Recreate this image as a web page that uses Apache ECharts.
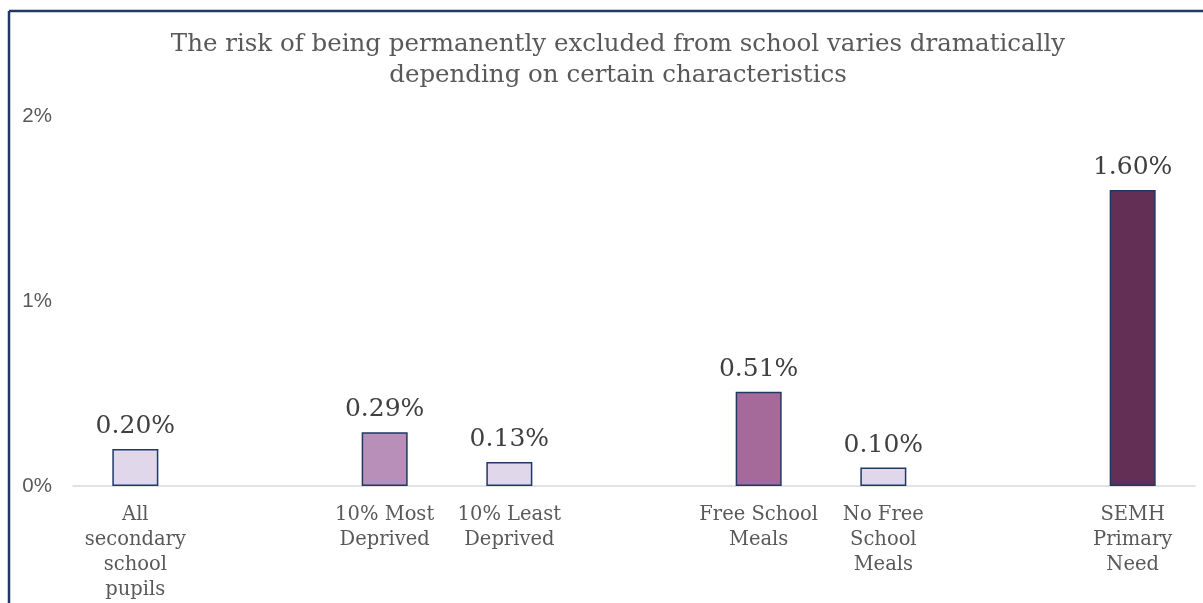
<!DOCTYPE html>
<html>
<head>
<meta charset="utf-8">
<script src="https://cdn.jsdelivr.net/npm/echarts@6/dist/echarts.min.js"></script>
<style>
html,body{margin:0;padding:0;background:#fff;}
#chart{width:1203px;height:603px;}
</style>
</head>
<body>
<div id="chart"></div>
<script>
var categories = ["All\nsecondary\nschool\npupils", "", "10% Most\nDeprived", "10% Least\nDeprived", "", "Free School\nMeals", "No Free\nSchool\nMeals", "", "SEMH\nPrimary\nNeed"];
var values = [0.20, null, 0.29, 0.13, null, 0.51, 0.10, null, 1.60];
var barColors = ["#e0d8ea", "#e0d8ea", "#b88fb8", "#e0d8ea", "#e0d8ea", "#a66a9a", "#e0d8ea", "#e0d8ea", "#632f55"];
var yTicks = [0, 1, 2];
var titleText = "The risk of being permanently excluded from school varies dramatically\ndepending on certain characteristics";

var serif = "'DejaVu Serif', serif";
var chart = echarts.init(document.getElementById('chart'));
chart.setOption({
  animation: false,
  backgroundColor: '#ffffff',
  title: {
    text: titleText,
    left: 613, top: 24, textAlign: 'center',
    textStyle: { fontFamily: serif, fontSize: 24.5, fontWeight: 'normal', color: '#595959', lineHeight: 31 }
  },
  graphic: [
    { type: 'line', shape: { x1: 9, y1: 11, x2: 1203, y2: 11 }, style: { stroke: '#1f3864', lineWidth: 2.5 } },
    { type: 'line', shape: { x1: 9, y1: 11, x2: 9, y2: 603 }, style: { stroke: '#1f3864', lineWidth: 2.5 } }
  ],
  grid: { left: 73, right: 8, top: 116, bottom: 117, containLabel: false },
  xAxis: {
    type: 'category',
    data: categories,
    axisLine: { lineStyle: { color: '#d9d9d9', width: 1.5 } },
    axisTick: { show: false },
    axisLabel: { interval: 0, margin: 16, fontFamily: serif, fontSize: 19.5, color: '#595959', lineHeight: 25 }
  },
  yAxis: {
    type: 'value',
    min: yTicks[0], max: yTicks[yTicks.length - 1], interval: 1,
    axisLine: { show: false },
    axisTick: { show: false },
    splitLine: { show: false },
    axisLabel: { formatter: '{value}%', margin: 21, fontFamily: "'Liberation Sans', Arial, sans-serif", fontSize: 20.5, color: '#595959' }
  },
  series: [{
    type: 'bar',
    barWidth: 46,
    data: values.map(function (v, i) {
      return { value: v, itemStyle: { color: barColors[i] } };
    }),
    itemStyle: { borderColor: '#1f3864', borderWidth: 1.5 },
    label: {
      show: true, position: 'top', distance: 10,
      fontFamily: serif, fontSize: 25, color: '#404040',
      formatter: function (p) { return p.value == null ? '' : p.value.toFixed(2) + '%'; }
    }
  }]
});
</script>
</body>
</html>
